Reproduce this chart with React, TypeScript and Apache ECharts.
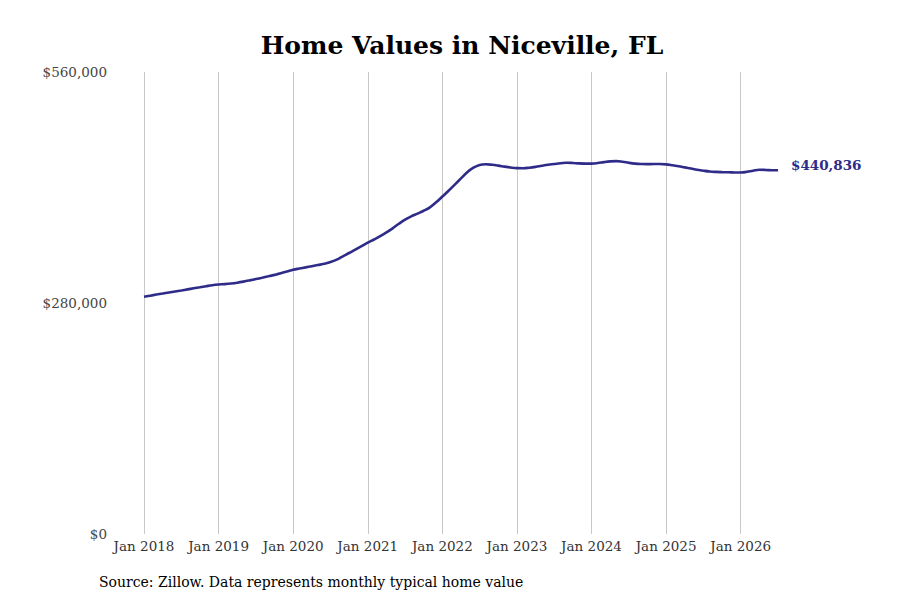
import React, { useEffect, useRef } from "react";
import * as echarts from "echarts";

const YEARS = [2018, 2019, 2020, 2021, 2022, 2023, 2024, 2025, 2026];
const MONTH_NAMES = ["Jan", "Feb", "Mar", "Apr", "May", "Jun", "Jul", "Aug", "Sep", "Oct", "Nov", "Dec"];

const values2018 = [287600, 288900, 290200, 291500, 292800, 294000, 295200, 296500, 297800, 299100, 300400, 301600];
const values2019 = [302400, 302900, 303600, 304600, 305900, 307400, 309000, 310600, 312300, 314100, 316000, 318100];
const values2020 = [320300, 321800, 323200, 324600, 326000, 327600, 329600, 332500, 336600, 340600, 344800, 349000];
const values2021 = [353200, 357000, 361000, 365500, 370500, 376000, 381000, 385000, 388300, 391800, 396000, 402000];
const values2022 = [409000, 416000, 423500, 431000, 438500, 444000, 447300, 448100, 447500, 446500, 445300, 444200];
const values2023 = [443500, 443400, 444000, 445000, 446300, 447500, 448400, 449300, 450000, 449700, 449200, 449000];
const values2024 = [449000, 449600, 450800, 451700, 452000, 451200, 449900, 448900, 448400, 448300, 448400, 448400];
const values2025 = [448000, 447000, 445800, 444400, 443000, 441600, 440400, 439400, 438900, 438600, 438400, 438200];
const values2026 = [438100, 439000, 440400, 441500, 441300, 440900, 440836];

const yTicks = [0, 280000, 560000];

const values = [
  ...values2018, ...values2019, ...values2020, ...values2021, ...values2022,
  ...values2023, ...values2024, ...values2025, ...values2026,
];
const categories: string[] = [];
YEARS.forEach((y) => MONTH_NAMES.forEach((m) => categories.push(`${m} ${y}`)));
categories.length = values.length;

const LINE_COLOR = "#2E2C88";
const FONT = "'DejaVu Serif', serif";
const fmt = (v: number) => "$" + v.toLocaleString("en-US");

export default function App() {
  const ref = useRef<HTMLDivElement>(null);
  useEffect(() => {
    if (!ref.current) return;
    const chart = echarts.init(ref.current, null, { renderer: "svg" });
    chart.setOption({
      animation: false,
      backgroundColor: "#ffffff",
      textStyle: { fontFamily: FONT },
      title: {
        text: "Home Values in Niceville, FL",
        left: 457,
        textAlign: "center",
        top: 28,
        textStyle: { fontFamily: FONT, fontWeight: "bold", fontSize: 25, color: "#000" },
      },
      grid: { left: 144, right: 122, top: 72, bottom: 66, containLabel: false },
      xAxis: {
        type: "category",
        data: categories,
        boundaryGap: false,
        axisLine: { show: false },
        axisTick: { show: false },
        axisLabel: {
          interval: (idx: number) => idx % 12 === 0,
          margin: 5,
          fontFamily: FONT,
          fontSize: 13.5,
          color: "#333",
        },
        splitLine: {
          show: true,
          interval: (idx: number) => idx % 12 === 0,
          lineStyle: { color: "#c8c8c8", width: 1 },
        },
      },
      yAxis: {
        type: "value",
        min: yTicks[0],
        max: yTicks[yTicks.length - 1],
        interval: yTicks[1] - yTicks[0],
        axisLine: { show: false },
        axisTick: { show: false },
        splitLine: { show: false },
        axisLabel: {
          margin: 37,
          fontFamily: FONT,
          fontSize: 13.5,
          color: "#444",
          formatter: (v: number) => fmt(v),
        },
      },
      series: [
        {
          type: "line",
          data: values,
          smooth: 0.4,
          showSymbol: false,
          lineStyle: { color: LINE_COLOR, width: 2.6 },
          itemStyle: { color: LINE_COLOR },
          endLabel: {
            show: true,
            distance: 13,
            offset: [0, -5],
            formatter: (p: any) => fmt(p.value),
            fontFamily: FONT,
            fontWeight: "bold",
            fontSize: 13.5,
            color: LINE_COLOR,
          },
        },
      ],
      graphic: [
        {
          type: "text",
          left: 99,
          top: 575,
          style: {
            text: "Source: Zillow. Data represents monthly typical home value",
            font: `14px ${FONT}`,
            fill: "#000",
          },
        },
      ],
    });
    return () => chart.dispose();
  }, []);
  return (
    <div
      ref={ref}
      style={{ position: "fixed", left: 0, top: 0, width: 900, height: 600, background: "#fff" }}
    />
  );
}
